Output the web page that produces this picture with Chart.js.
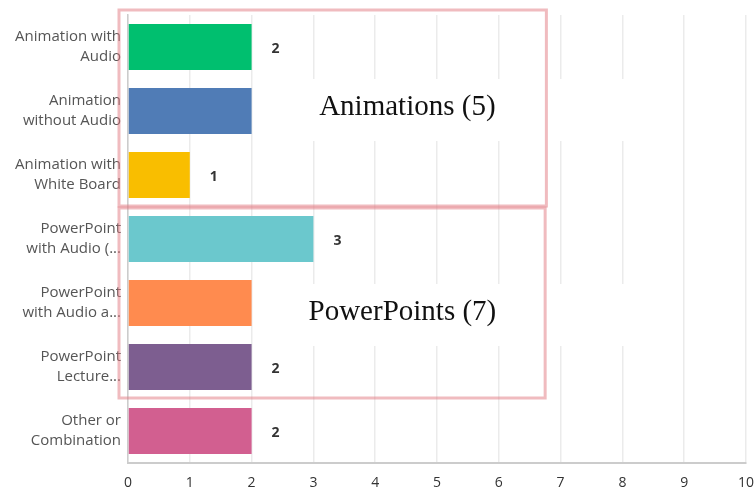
<!DOCTYPE html>
<html><head><meta charset="utf-8">
<script src="https://cdn.jsdelivr.net/npm/chart.js@4/dist/chart.umd.min.js"></script>
<style>html,body{margin:0;padding:0;background:#fff}#wrap{width:755px;height:490px}</style>
</head><body><div id="wrap"><canvas id="c"></canvas></div>
<script>
const categories = [
  ["Animation with","Audio"],
  ["Animation","without Audio"],
  ["Animation with","White Board"],
  ["PowerPoint","with Audio (..."],
  ["PowerPoint","with Audio a..."],
  ["PowerPoint","Lecture..."],
  ["Other or","Combination"]
];
const values = [2, 2, 1, 3, 2, 2, 2];
const barColors = ["#00bf6f","#507cb6","#f9be00","#6bc8cd","#ff8b4f","#7d5e90","#d25f90"];
const xTicks = [0,1,2,3,4,5,6,7,8,9,10];
const groups = [
  {label:"Animations (5)", from:0, to:2, xMax:6.77, textX:4.52, dy:-4},
  {label:"PowerPoints (7)", from:3, to:5, xMax:6.75, textX:4.44, dy:9}
];

const overlay = {
  id:'overlay',
  afterDatasetsDraw(chart){
    const ctx = chart.ctx, xs = chart.scales.x, ys = chart.scales.y;
    ctx.save();
    ctx.font = 'bold 14px "Open Sans"';
    ctx.fillStyle = '#333';
    ctx.textAlign = 'center'; ctx.textBaseline = 'middle';
    values.forEach((v,i)=>{
      ctx.fillText(String(v), xs.getPixelForValue(v)+24, ys.getPixelForValue(i)+2);
    });
    ctx.restore();
  },
  afterDraw(chart){
    const ctx = chart.ctx, xs = chart.scales.x, ys = chart.scales.y;
    const band = ys.getPixelForValue(1) - ys.getPixelForValue(0);
    groups.forEach((g,gi)=>{
      const top = ys.getPixelForValue(g.from) - band/2 + (gi===0?-5:1);
      const bot = ys.getPixelForValue(g.to) + band/2 - 1;
      const left = xs.getPixelForValue(0) - 9;
      const right = xs.getPixelForValue(g.xMax);
      const ty = (ys.getPixelForValue(g.from)+ys.getPixelForValue(g.to))/2 + g.dy;
      ctx.save();
      ctx.fillStyle = '#fff';
      const bx0 = xs.getPixelForValue(2.2), bx1 = xs.getPixelForValue(8.4);
      ctx.fillRect(bx0, ty-28, bx1-bx0, 62);
      ctx.restore();
      ctx.save();
      ctx.strokeStyle = 'rgba(225,120,128,0.5)';
      ctx.lineWidth = 3;
      ctx.strokeRect(left, top, right-left, bot-top);
      ctx.restore();
      ctx.save();
      ctx.font = '29px "Liberation Serif"';
      ctx.fillStyle = '#111';
      ctx.textAlign = 'center'; ctx.textBaseline = 'middle';
      ctx.fillText(g.label, xs.getPixelForValue(g.textX), ty);
      ctx.restore();
    });
  }
};

new Chart(document.getElementById('c'), {
  type:'bar',
  data:{labels:categories, datasets:[{data:values, backgroundColor:barColors, borderWidth:0, barPercentage:0.72, categoryPercentage:1}]},
  options:{
    indexAxis:'y', responsive:true, maintainAspectRatio:false, animation:false,
    layout:{padding:{top:15,right:9,bottom:0,left:0}},
    plugins:{legend:{display:false}, tooltip:{enabled:false}},
    scales:{
      x:{min:0,max:10, afterBuildTicks(s){s.ticks = xTicks.map(v=>({value:v}));},
        afterFit(s){s.paddingLeft = 0; s.paddingRight = 0; s.height = 27;},
        grid:{color:'#ebebeb', lineWidth:1.5, drawTicks:false},
        border:{color:'#cccccc', width:2},
        ticks:{color:'#333', font:{family:'"Open Sans"', size:14}, padding:12}},
      y:{grid:{display:false, drawTicks:false},
        border:{color:'#cccccc', width:1.5},
        afterFit(s){s.width = 128; s.paddingTop = 0; s.paddingBottom = 0;},
        ticks:{color:'#555', font:{family:'"Open Sans"', size:15, lineHeight:1.33}, padding:7}}
    }
  },
  plugins:[overlay]
});
</script></body></html>
